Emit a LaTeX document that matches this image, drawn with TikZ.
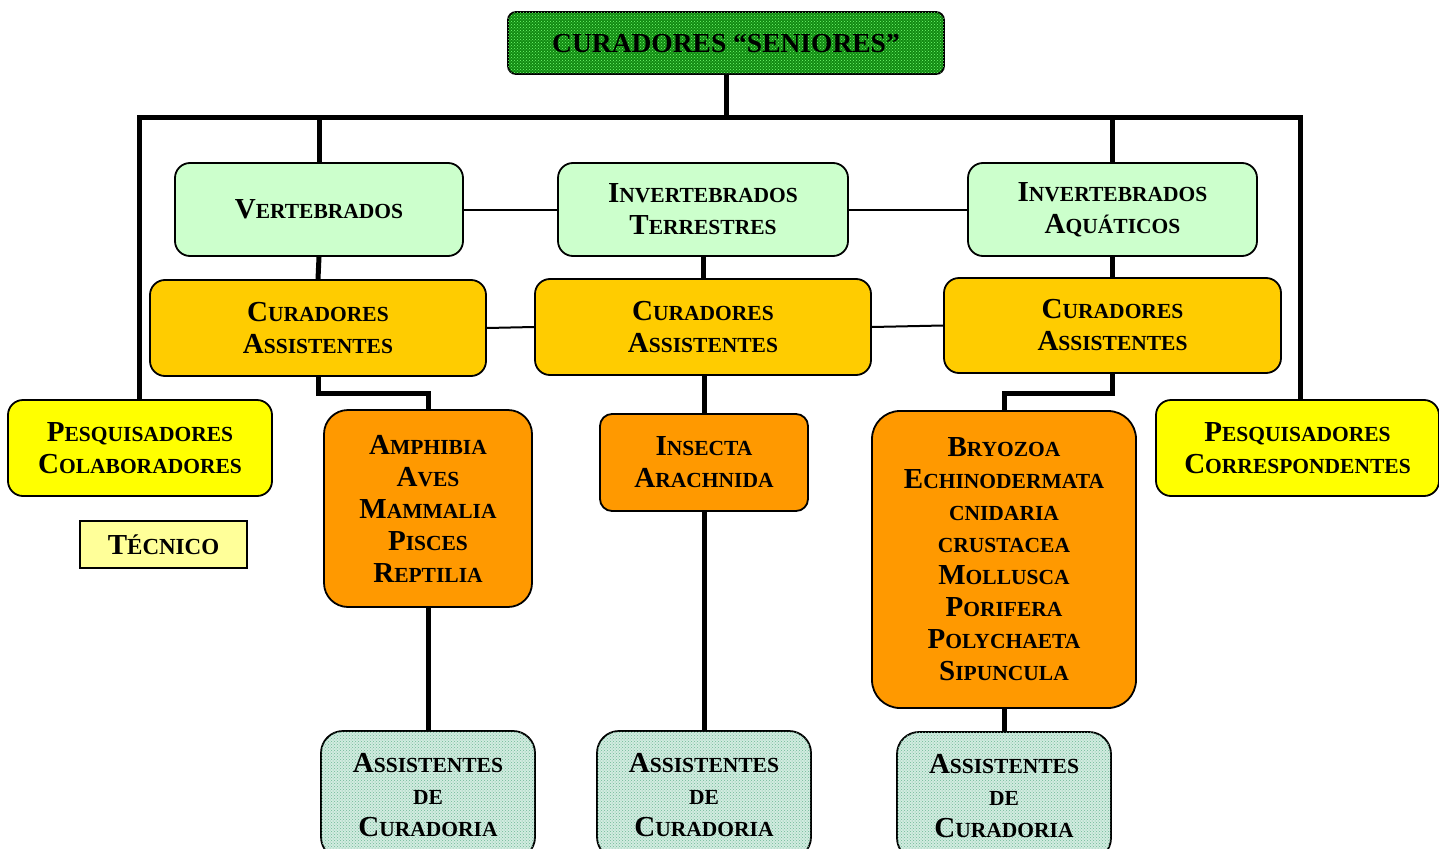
\documentclass[tikz,border=0pt]{standalone}
\usepackage{fontspec}
\setmainfont{Liberation Serif}
\usetikzlibrary{patterns}
\newcommand\smallsz{\fontsize{21.5pt}{32pt}\selectfont}
\newcommand\scx[2]{#1{\smallsz #2}}
\newcommand\scs[1]{{\smallsz #1}}
\definecolor{titlegreen}{HTML}{128A12}
\definecolor{paleg}{HTML}{CCFFCC}
\definecolor{gold}{HTML}{FFCC00}
\definecolor{orng}{HTML}{FF9900}
\definecolor{ylw}{HTML}{FFFF00}
\definecolor{paley}{HTML}{FFFF99}
\definecolor{mint}{HTML}{D2ECE0}
\definecolor{mintdot}{HTML}{6FB898}
\tikzset{
  box/.style={draw=black, line width=1.8pt, rounded corners=15pt, inner sep=0pt,
    align=center, font=\bfseries\fontsize{29pt}{32pt}\selectfont},
  thickln/.style={line width=5pt},
  thinln/.style={line width=2pt},
}
\begin{document}
\begin{tikzpicture}[x=1pt,y=-1pt]
\useasboundingbox (0,0) rectangle (1439,848);
\clip (0,0) rectangle (1439,848);
% nodes
\node[box, rounded corners=8pt, fill=titlegreen, minimum width=436pt, minimum height=62pt,
  font=\bfseries\fontsize{27.5pt}{30pt}\selectfont,
  postaction={pattern=crosshatch dots, pattern color=green!55!white}] (top) at (726,43)
  {CURADORES “SENIORES”};
\node[box, fill=paleg, minimum width=288pt, minimum height=93pt] (V) at (319,209.5)
  {\scx{V}{ERTEBRADOS}};
\node[box, fill=paleg, minimum width=290pt, minimum height=93pt] (IT) at (703,209.5)
  {\scx{I}{NVERTEBRADOS}\\\scx{T}{ERRESTRES}};
\node[box, fill=paleg, minimum width=289pt, minimum height=93pt] (IA) at (1112.5,209.5)
  {\scx{I}{NVERTEBRADOS}\\\scx{A}{QUÁTICOS}};
\node[box, fill=gold, minimum width=336pt, minimum height=96pt] (CA1) at (318,328)
  {\scx{C}{URADORES}\\\scx{A}{SSISTENTES}};
\node[box, fill=gold, minimum width=336pt, minimum height=96pt] (CA2) at (703,327)
  {\scx{C}{URADORES}\\\scx{A}{SSISTENTES}};
\node[box, fill=gold, minimum width=337pt, minimum height=95pt] (CA3) at (1112.5,325.5)
  {\scx{C}{URADORES}\\\scx{A}{SSISTENTES}};
\node[box, fill=ylw, minimum width=264pt, minimum height=96pt] (PC) at (140,448)
  {\scx{P}{ESQUISADORES}\\\scx{C}{OLABORADORES}};
\node[box, fill=ylw, minimum width=283pt, minimum height=96pt] (PR) at (1297.5,448)
  {\scx{P}{ESQUISADORES}\\\scx{C}{ORRESPONDENTES}};
\node[box, rounded corners=0pt, fill=paley, minimum width=167pt, minimum height=47pt] (TEC) at (163.5,544.5)
  {\scx{T}{\fontsize{23pt}{32pt}\selectfont ÉCNICO}};
\node[box, rounded corners=24pt, fill=orng, minimum width=208pt, minimum height=197pt] (AM) at (428,508.5)
  {\scx{A}{MPHIBIA}\\\scx{A}{VES}\\\scx{M}{AMMALIA}\\\scx{P}{ISCES}\\\scx{R}{EPTILIA}};
\node[box, rounded corners=12pt, fill=orng, minimum width=208pt, minimum height=97pt] (IN) at (704,462.5)
  {\scx{I}{NSECTA}\\\scx{A}{RACHNIDA}};
\node[box, rounded corners=28pt, fill=orng, minimum width=264pt, minimum height=297pt] (BR) at (1004,559.5)
  {\scx{B}{RYOZOA}\\\scx{E}{CHINODERMATA}\\\scs{CNIDARIA}\\\scs{CRUSTACEA}\\\scx{M}{OLLUSCA}\\\scx{P}{ORIFERA}\\\scx{P}{OLYCHAETA}\\\scx{S}{IPUNCULA}};
\tikzset{acbox/.style={box, rounded corners=22pt, fill=mint, minimum width=214pt, minimum height=128pt,
  postaction={pattern=crosshatch dots, pattern color=mintdot}}}
\node[acbox] (AC1) at (428,795) {\scx{A}{SSISTENTES}\\\scs{DE}\\\scx{C}{URADORIA}};
\node[acbox] (AC2) at (704,795) {\scx{A}{SSISTENTES}\\\scs{DE}\\\scx{C}{URADORIA}};
\node[acbox] (AC3) at (1004,796) {\scx{A}{SSISTENTES}\\\scs{DE}\\\scx{C}{URADORIA}};
% bus
\coordinate (busL) at (139,118);
\coordinate (busR) at (1300,118);
\coordinate (elbL) at (0,393);
\coordinate (elbR) at (0,393);
\draw[thickln] (busL |- PC.north) -- (busL) -- (busR) -- (busR |- PR.north);
\draw[thickln] (top.south) -- (top.south |- busL);
\draw[thickln] (V.north) -- (V.north |- busL);
\draw[thickln] (IA.north) -- (IA.north |- busL);
% thin horizontals
\draw[thinln] (V.east) -- (IT.west);
\draw[thinln] (IT.east) -- (IA.west);
\draw[thinln] (CA1.east) -- (CA2.west);
\draw[thinln] (CA2.east) -- (CA3.west);
% verticals
\draw[thickln] (V.south) -- (CA1.north);
\draw[thickln] (IT.south) -- (CA2.north);
\draw[thickln] (IA.south) -- (CA3.north);
\draw[thickln] (CA1.south) -- (CA1.south |- elbL) -| (AM.north);
\draw[thickln] (IN.north |- CA2.south) -- (IN.north);
\draw[thickln] (CA3.south) -- (CA3.south |- elbR) -| (BR.north);
\draw[thickln] (AM.south) -- (AC1.north);
\draw[thickln] (IN.south) -- (AC2.north);
\draw[thickln] (BR.south) -- (AC3.north);
\end{tikzpicture}
\end{document}
